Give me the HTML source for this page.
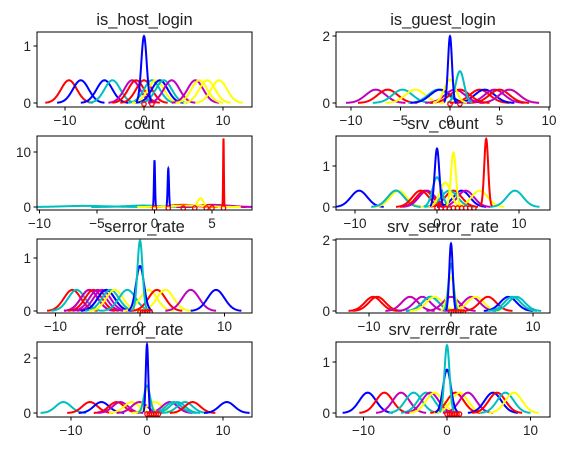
<!DOCTYPE html>
<html><head><meta charset="utf-8"><style>
body{margin:0;background:#fff}
svg text{font-family:"Liberation Sans","DejaVu Sans",sans-serif;fill:#222}
</style></head><body>
<svg id="c" width="568" height="450" xmlns="http://www.w3.org/2000/svg"></svg>
<script>
const titles=["is_host_login","is_guest_login","count","srv_count","serror_rate","srv_serror_rate","rerror_rate","srv_rerror_rate"];
const B="#0000ff",R="#ff0000",C="#00bfbf",M="#bf00bf",Y="#ffff00";
const means1=[-9.5,-8,-5,-4,-1.5,-1,0,1,1.5,2,2.5,3.5,6.5,7,8,9.5,0];
const sds1=[1,1,1,1,1,1,1,1,1,1,1,1,1,1,1,1,0.34];
const cols1=[R,B,B,C,M,R,R,C,Y,B,C,M,M,Y,Y,Y,B];
const means2=[-7.5,-6.3,-4.8,-3.5,-1.2,-1,3,3.5,4.5,5,6,6,0.5,1,0,1,0];
const sds2=[1,1,1,1,1,1,1,1,1,1,1,1,1,1,0.57,0.42,0.2];
const cols2=[M,R,C,Y,C,B,R,B,M,R,Y,M,M,R,Y,C,B];
const means3=[-6,-1,2.5,5,5.5,3,4,0,1.2,6];
const sds3=[2,1.5,1,1,1.2,1.5,0.25,0.047,0.057,0.032];
const cols3=[C,C,R,R,M,Y,Y,B,B,R];
const means4=[-9.5,-5,-4.7,-5,-1.5,-1.2,-2,2,3,3.5,5.2,9.5,1.5,0,1,0,2,6];
const sds4=[1,1,1,1,1,1,1,1,1,1,1,1,1,0.55,0.67,0.28,0.3,0.24];
const cols4=[B,M,Y,C,R,M,R,R,B,M,Y,C,C,C,Y,B,Y,R];
const means5=[-8,-7.5,-6,-6,-5.5,-5,-4.5,-4,-4,-3.5,-3,-1.5,1,2,2,3,6,9,0,0];
const sds5=[1,1,1,1,1,1,1,1,1,1,1,1,1,1,1,1,1,1,0.47,0.3];
const cols5=[R,C,R,M,R,M,M,M,B,C,Y,C,Y,Y,R,Y,M,B,B,C];
const means6=[-9.5,-9,-5,-5,-3.5,-2.5,-2.5,-2,0,2.5,3,4.5,7,7.5,8,0,0,0];
const sds6=[1,1,1,1,1,1,1,1,1,1,1,1,1,1,1,0.42,0.3,0.21];
const cols6=[R,R,Y,M,M,B,C,Y,M,M,Y,R,B,C,C,Y,C,B];
const means7=[-11,-7.5,-6,-4,-3.5,-2,-1,-1,1,3,3.5,4,5,6,10.5,0,0,0];
const sds7=[1,1,1,1,1,1,1,1,1,1,1,1,1,1,1,0.48,0.4,0.16];
const cols7=[C,R,B,R,M,Y,Y,M,Y,M,C,C,C,R,B,Y,C,B];
const means8=[-9.5,-7.5,-5.5,-4,-2.5,-2,-1.5,1,1,1.5,2.5,5.5,6,7,8,0,0];
const sds8=[1,1,1,1,1,1,1,1,1,1,1,1,1,1,1,0.47,0.3];
const cols8=[B,R,M,C,C,M,Y,Y,R,Y,M,B,R,C,Y,B,C];
const markers=[[0,1],[0,1],[0,1.2,2.5,3.5,4.5,5,6],[0,0.5,1,1.5,2,2.5,3,3.5,4,4.5],[0,0.3,0.6,0.9,1.2],[0,0.3,0.6,0.9,1.2,1.5],[0,0.3,0.6,0.9,1.2,1.5],[0,0.3,0.6,0.9,1.2,1.5]];
const xticks=[[-10,0,10],[-10,-5,0,5,10],[-10,-5,0,5],[-10,0,10],[-10,0,10],[-10,0,10],[-10,0,10],[-10,0,10]];
const yticks=[[0,1],[0,2],[0,10],[0,1],[0,1],[0,2],[0,2],[0,1]];
const allMeans=[means1,means2,means3,means4,means5,means6,means7,means8];
const allSds=[sds1,sds2,sds3,sds4,sds5,sds6,sds7,sds8];
const allCols=[cols1,cols2,cols3,cols4,cols5,cols6,cols7,cols8];
const geo=[[37,32,252,107,144,7.9,103,57],[336,32,550,107,450,9.9,103,33.5],
[37,136,252,210,154.5,11.5,207,5.5],[336,136,550,210,437,8.2,207,41],
[37,239,252,313,140,8.45,311,53],[336,239,550,313,451,8.2,311,35.5],
[37,342,252,417,147,7.6,413,27.5],[336,342,550,417,447,8.35,413,51]];
const svg=document.getElementById('c');const NS="http://www.w3.org/2000/svg";
function mk(t,a,p){const e=document.createElementNS(NS,t);for(const k in a)e.setAttribute(k,a[k]);(p||svg).appendChild(e);return e;}
const defs=mk('defs',{});
geo.forEach((g,i)=>{
 const [l,t,r,b,x0,sx,y0,sy]=g;
 const X=v=>x0+v*sx, Yf=v=>y0-v*sy;
 const grp=mk('g',{});
 
 
 const cp=mk('clipPath',{id:'cp'+i},defs);mk('rect',{x:l,y:t,width:r-l,height:b-t},cp);
 const cg=mk('g',{'clip-path':'url(#cp'+i+')'},grp);
 allMeans[i].forEach((m,j)=>{
  const s=allSds[i][j];let d='';
  for(let k=0;k<=60;k++){const v=m-3*s+6*s*k/60;const y=Math.exp(-0.5*((v-m)/s)**2)/(s*Math.sqrt(2*Math.PI));d+=(k?'L':'M')+X(v).toFixed(2)+','+Yf(y).toFixed(2);}
  const p=mk('path',{d:d,fill:'none',stroke:allCols[i][j],'stroke-width':2},cg);
  
  
 });
 markers[i].forEach(v=>{const c=mk('circle',{cx:X(v),cy:y0+1,r:2.2,fill:'none',stroke:R,'stroke-width':1.3},cg);
  
  });
 const fr=mk('rect',{x:l,y:t,width:r-l,height:b-t,fill:'none',stroke:'#000','stroke-width':1},grp);
 
 
 xticks[i].forEach(v=>{const x=X(v);mk('line',{x1:x,x2:x,y1:b,y2:b+3.5,stroke:'#000'},grp);
  const tx=mk('text',{x:x,y:b+18,'font-size':13.5,'text-anchor':'middle'},grp);tx.textContent=v<0?'\u2212'+(-v):v;
  
  });
 yticks[i].forEach(v=>{const y=Yf(v);mk('line',{x1:l-3.5,x2:l,y1:y,y2:y,stroke:'#000'},grp);
  const tx=mk('text',{x:l-6,y:y+5,'font-size':13.5,'text-anchor':'end'},grp);tx.textContent=v;
  
  });
 const tt=mk('text',{x:(l+r)/2,y:t-7,'font-size':16.5,'text-anchor':'middle'},grp);tt.textContent=titles[i];
 
 
});
</script>
</body></html>
